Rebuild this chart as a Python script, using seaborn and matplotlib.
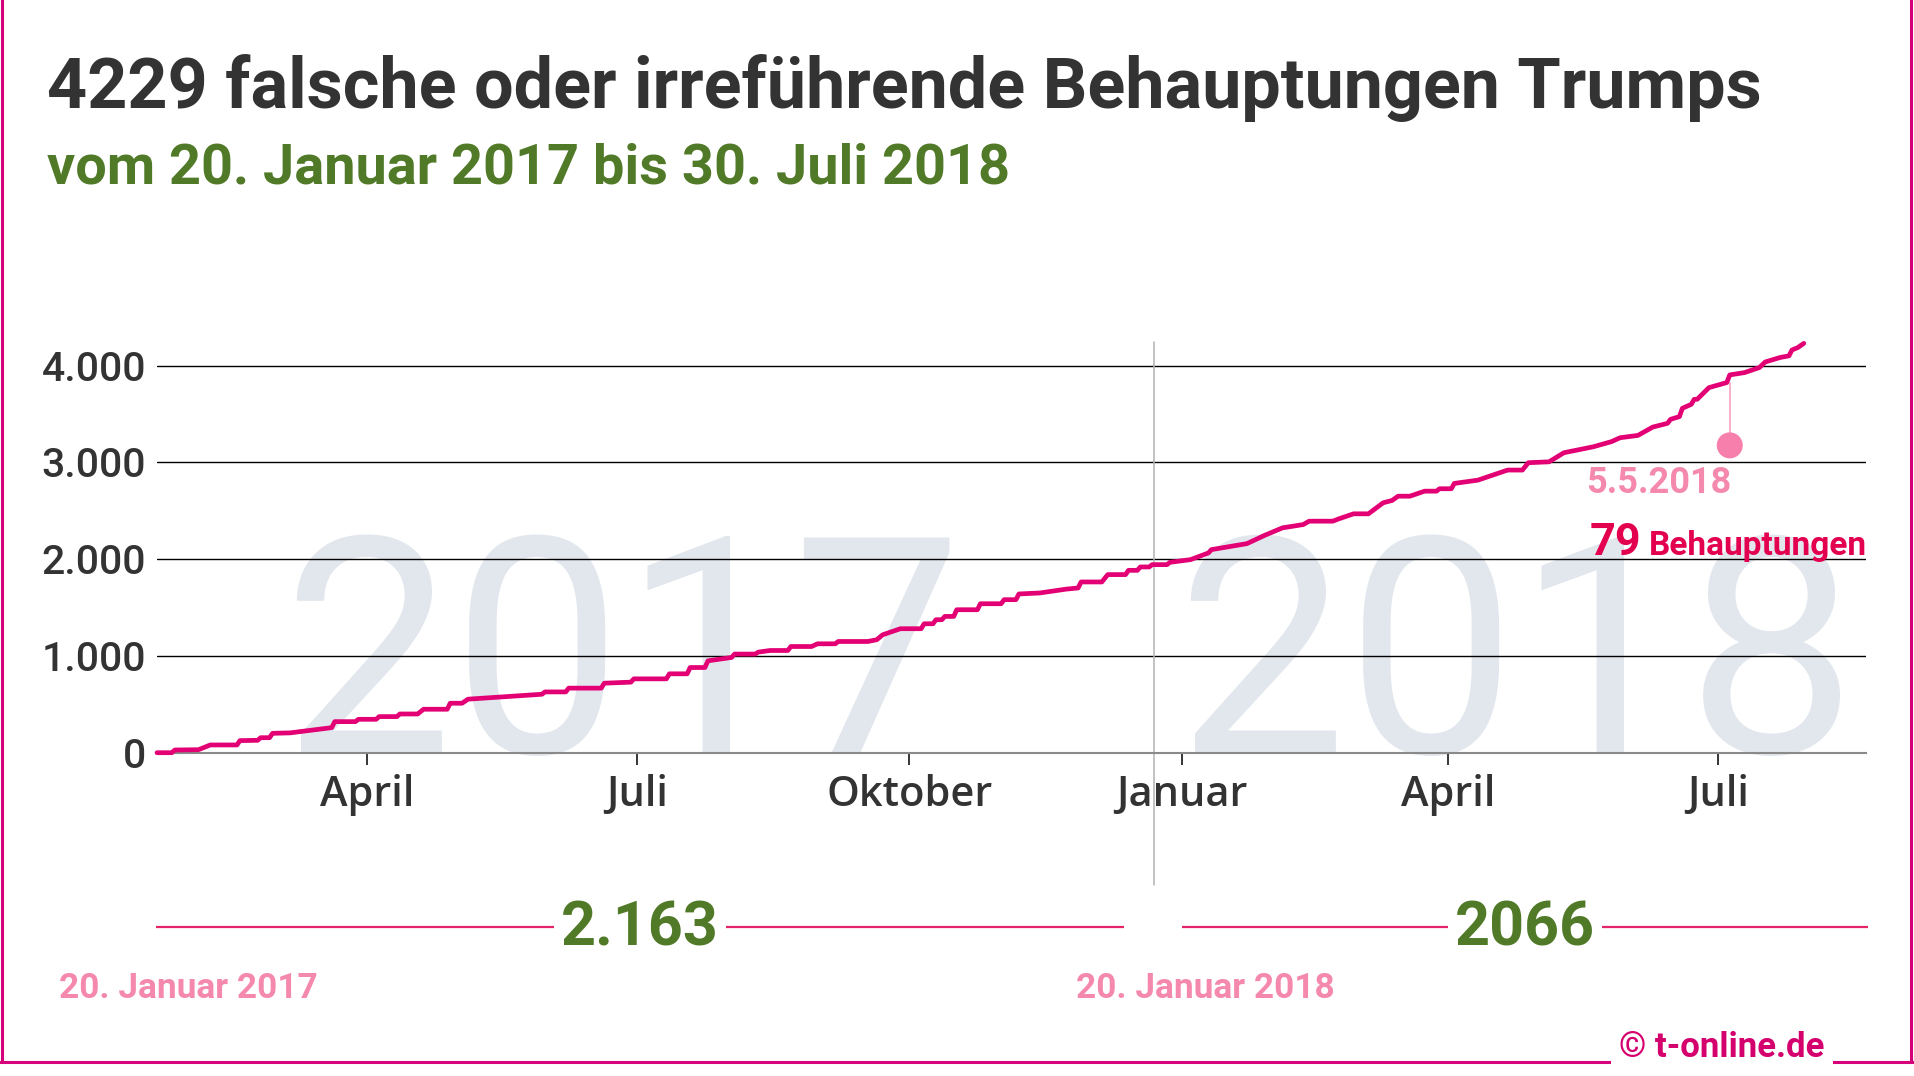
import pandas as pd
import numpy as np
import matplotlib.pyplot as plt
import seaborn as sns
from matplotlib.ticker import FuncFormatter

# Tage seit dem 20.1.2017 und kumulierte Zahl der Behauptungen
start_date = pd.Timestamp('2017-01-20')
days_since_start = [0, 5, 6, 14, 18, 27, 28, 34, 35, 38,
                    39, 45, 59, 60, 67, 68, 74, 75, 81, 82,
                    88, 90, 98, 99, 103, 105, 130, 131, 138, 139,
                    150, 151, 160, 161, 172, 173, 179, 180, 185, 186,
                    194, 195, 202, 203, 207, 213, 214, 221, 223, 229,
                    230, 240, 243, 245, 251, 258, 259, 262, 263, 265,
                    266, 269, 270, 277, 278, 285, 286, 290, 291, 298,
                    304, 307, 311, 312, 319, 321, 327, 328, 331, 332,
                    335, 336, 341, 342, 349, 355, 356, 368, 374, 380,
                    387, 389, 397, 399, 404, 409, 414, 417, 419, 423,
                    428, 432, 433, 437, 438, 446, 456, 461, 463, 470,
                    475, 485, 491, 494, 500, 505, 510, 511, 514, 515,
                    518, 519, 520, 524, 530, 531, 536, 541, 543, 548,
                    551, 552, 554, 556]
claims_total = [0, 0, 28, 31, 80, 80, 125, 128, 155, 155,
                200, 205, 259, 321, 321, 345, 345, 373, 373, 400,
                400, 449, 449, 511, 511, 553, 604, 628, 628, 667,
                667, 718, 729, 763, 763, 815, 815, 880, 880, 949,
                984, 1019, 1019, 1039, 1056, 1056, 1097, 1097, 1125, 1125,
                1149, 1149, 1167, 1218, 1281, 1281, 1332, 1332, 1374, 1374,
                1408, 1408, 1477, 1477, 1539, 1539, 1581, 1581, 1640, 1650,
                1677, 1690, 1702, 1764, 1764, 1840, 1840, 1884, 1884, 1919,
                1919, 1943, 1943, 1967, 1995, 2064, 2098, 2160, 2246, 2323,
                2357, 2392, 2392, 2416, 2468, 2468, 2582, 2606, 2650, 2650,
                2702, 2702, 2727, 2727, 2782, 2816, 2920, 2920, 2996, 3005,
                3099, 3161, 3213, 3254, 3278, 3364, 3403, 3444, 3472, 3558,
                3599, 3651, 3651, 3772, 3824, 3903, 3927, 3979, 4037, 4083,
                4100, 4160, 4186, 4229]

tick_dates = ['2017-04-01', '2017-07-01', '2017-10-01', '2018-01-01', '2018-04-01', '2018-07-01']
tick_labels = ['April', 'Juli', 'Oktober', 'Januar', 'April', 'Juli']
y_ticks = [0, 1000, 2000, 3000, 4000]

period_labels = ['2.163', '2066']
period_starts = ['20. Januar 2017', '20. Januar 2018']

event_day = 531
event_before = 3824
event_label = '5.5.2018'
event_claims = 79

# Farben
PINK_LINE = '#e20074'
GREEN = '#507a28'
LIGHT_PINK = '#f489ad'
RED = '#e2004f'
DARK = '#333333'

df = pd.DataFrame({'Datum': start_date + pd.to_timedelta(days_since_start, unit='D'),
                   'Behauptungen': claims_total})

sns.set_theme(style='white')
plt.rcParams['font.family'] = ['Roboto', 'DejaVu Sans']

W, H = 1914, 1076
fig = plt.figure(figsize=(W / 100, H / 100), dpi=100)
fig.patch.set_facecolor('white')

# Hauptdiagramm in Pixelkoordinaten platziert
y0_px, ytop_px, xl_px, xr_px = 752.7, 342, 157, 1866
ax = fig.add_axes([xl_px / W, 1 - y0_px / H, (xr_px - xl_px) / W, (y0_px - ytop_px) / H])

ax.text(0.2724, 0, '2017', transform=ax.transAxes, ha='center', va='baseline',
        fontsize=218, color='#e2e7ee', zorder=0.2)
ax.text(0.7955, 0, '2018', transform=ax.transAxes, ha='center', va='baseline',
        fontsize=218, color='#e2e7ee', zorder=0.2)

sns.lineplot(data=df, x='Datum', y='Behauptungen', color=PINK_LINE, linewidth=3.4,
             ax=ax, zorder=3, clip_on=False)

ax.set_xlim(start_date, pd.Timestamp('2018-08-20'))
ax.set_ylim(0, 4243)
ax.set_xlabel('')
ax.set_ylabel('')

ax.set_xticks(pd.to_datetime(tick_dates))
ax.set_xticklabels(tick_labels)
ax.set_yticks(y_ticks)
ax.yaxis.set_major_formatter(FuncFormatter(lambda v, p: f'{v:,.0f}'.replace(',', '.')))

ax.set_axisbelow(True)
ax.yaxis.grid(True, color='black', linewidth=1.0)
ax.xaxis.grid(False)
for s in ['top', 'right', 'left']:
    ax.spines[s].set_visible(False)
ax.spines['bottom'].set_color('#8a8a8a')
ax.spines['bottom'].set_linewidth(1.5)

ax.tick_params(axis='x', bottom=True, direction='out', length=8.6, width=1.1,
               color='black', pad=7, labelsize=30, labelcolor=DARK)
ax.tick_params(axis='y', length=0, pad=8, labelsize=29.5, labelcolor=DARK)
for lab in ax.get_xticklabels():
    lab.set_fontfamily(['Open Sans', 'DejaVu Sans'])
    lab.set_fontweight(600)
for lab in ax.get_yticklabels():
    lab.set_fontweight('medium')

# Trennlinie zwischen den Jahren
sep_date = start_date + pd.Timedelta(days=336.5)
ax.axvline(sep_date, ymin=(y0_px - 885) / (y0_px - ytop_px), ymax=1, color='#b3b3b3',
           linewidth=1.1, clip_on=False, zorder=0.8)

# Markierung des Ereignisses
ev_date = start_date + pd.Timedelta(days=event_day)
dot_value = 3175
ax.plot([ev_date, ev_date], [event_before, dot_value], color='#f7a3c2', linewidth=1.2,
        zorder=2.8, clip_on=False)
ax.scatter([ev_date], [dot_value], s=350, color='#f77fab', edgecolor='none', zorder=4,
           clip_on=False)

# Overlay für Texte und Rahmen
ov = fig.add_axes([0, 0, 1, 1], zorder=5)
ov.set_xlim(0, W)
ov.set_ylim(H, 0)
ov.axis('off')
ov.patch.set_alpha(0)

ov.text(47, 108, '4229 falsche oder irreführende Behauptungen Trumps', fontsize=50.5,
        fontweight='bold', color=DARK, ha='left', va='baseline')
ov.text(47, 183, 'vom 20. Januar 2017 bis 30. Juli 2018', fontsize=40.2,
        fontweight='bold', color=GREEN, ha='left', va='baseline')

ov.text(1731, 493, event_label, fontsize=26, fontweight='bold', color=LIGHT_PINK,
        ha='right', va='baseline')
ov.text(1867, 555, 'Behauptungen', fontsize=24, fontweight='bold', color=RED,
        ha='right', va='baseline')
ov.text(1641, 555, str(event_claims), fontsize=32.4, fontweight='bold', color=RED,
        ha='right', va='baseline')

# Zeiträume unten
seg_y = 926.5
segments = [(156, 1124), (1182, 1868)]
for (a, b), lab in zip(segments, period_labels):
    ov.plot([a, b], [seg_y, seg_y], color='#e3246a', linewidth=1.6, solid_capstyle='butt')
    ov.text((a + b) / 2, 945, lab, fontsize=44, fontweight='bold', color=GREEN,
            ha='center', va='baseline',
            bbox=dict(boxstyle='square,pad=0.12', facecolor='white', edgecolor='none'))
for x, lab in zip([59, 1076], period_starts):
    ov.text(x, 998, lab, fontsize=25.4, fontweight='bold', color=LIGHT_PINK,
            ha='left', va='baseline')

# Rahmen
BORDER = '#d6007a'
ov.plot([1.5, 1.5], [0, 1061.7], color=BORDER, linewidth=2.2, clip_on=False)
ov.plot([1911, 1911], [0, 1061.7], color=BORDER, linewidth=2.2, clip_on=False)
ov.plot([0, W], [1061.7, 1061.7], color=BORDER, linewidth=2.2, clip_on=False)
ov.text(1722, 1057, '© t-online.de', fontsize=25, fontweight='bold', color='#d4006e',
        ha='center', va='baseline',
        bbox=dict(boxstyle='square,pad=0.25', facecolor='white', edgecolor='none'))

plt.savefig('out.png', dpi=100)
